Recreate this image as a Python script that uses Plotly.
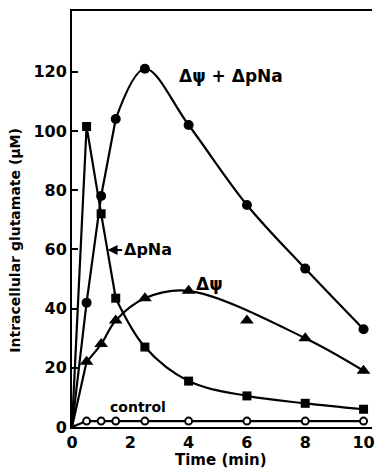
import plotly.graph_objects as go

# ---- data ----
time_min = [0, 0.5, 1, 1.5, 2.5, 4, 6, 8, 10]
both_vals = [0, 42, 78, 104, 121, 102, 75, 53.5, 33]      # Δψ + ΔpNa (filled circles)
pna_vals = [0, 101.5, 72, 43.5, 27, 15.5, 10.5, 8, 6]      # ΔpNa (filled squares)
psi_vals = [0, 22, 28, 36, 43.5, 46, 36, 30, 19]           # Δψ (filled triangles)
ctrl_vals = [0, 2, 2, 2, 2, 2, 2, 2, 2]                    # control (open circles)
psi_curve_skip_times = [6]                                  # point lying off the drawn curve
x_ticks = [0, 2, 4, 6, 8, 10]
y_ticks = [0, 20, 40, 60, 80, 100, 120]

FONT = "DejaVu Sans"
BLACK = "#000000"
LW = 2.2

fig = go.Figure()


def add_line(xs, ys, shape):
    fig.add_trace(go.Scatter(x=xs, y=ys, mode="lines",
                             line=dict(color=BLACK, width=LW, shape=shape, smoothing=1.0),
                             hoverinfo="skip", showlegend=False))


def add_markers(xs, ys, symbol, size, fill=BLACK, lw=0):
    fig.add_trace(go.Scatter(x=xs[1:], y=ys[1:], mode="markers",
                             marker=dict(symbol=symbol, size=size, color=fill,
                                         line=dict(color=BLACK, width=lw)),
                             showlegend=False))


# Δψ + ΔpNa: straight segments early, smooth curve afterwards
add_line(time_min[:4], both_vals[:4], "linear")
add_line(time_min[3:], both_vals[3:], "spline")

# ΔpNa
add_line(time_min[:4], pna_vals[:4], "linear")
add_line(time_min[3:], pna_vals[3:], "spline")

# Δψ
add_line(time_min[:2], psi_vals[:2], "linear")
psi_cx = [t for t in time_min[1:] if t not in psi_curve_skip_times]
psi_cy = [v for t, v in zip(time_min[1:], psi_vals[1:]) if t not in psi_curve_skip_times]
add_line(psi_cx, psi_cy, "spline")

# control
add_line(time_min, ctrl_vals, "linear")

add_markers(time_min, both_vals, "circle", 10)
add_markers(time_min, pna_vals, "square", 9)
add_markers(time_min, psi_vals, "triangle-up", 12)
add_markers(time_min, ctrl_vals, "circle", 7, fill="white", lw=2)

bold = dict(family=FONT, color=BLACK, weight="bold")

fig.update_layout(
    width=375, height=472,
    margin=dict(l=72, r=0, t=11, b=45),
    paper_bgcolor="white", plot_bgcolor="white",
    xaxis=dict(range=[0, 10.29], tickvals=x_ticks, ticktext=[str(v) for v in x_ticks],
               showline=True, linecolor=BLACK, linewidth=2, mirror=True,
               showgrid=False, zeroline=False, ticks="",
               ticklabeloverflow="allow",
               tickfont=dict(size=16, **bold)),
    yaxis=dict(range=[0, 140.5], tickvals=y_ticks,
               showline=True, linecolor=BLACK, linewidth=2, mirror=False,
               showgrid=False, zeroline=False, ticks="inside", ticklen=6,
               tickwidth=2, tickcolor=BLACK,
               tickfont=dict(size=16, **bold)),
    annotations=[
        dict(text="Intracellular glutamate (μM)", xref="paper", yref="paper",
             x=-0.191, y=0.4495, textangle=-90, showarrow=False,
             xanchor="center", yanchor="middle", font=dict(size=14, **bold)),
        dict(text="Time (min)", xref="paper", yref="paper", x=0.495, y=-0.079,
             showarrow=False, xanchor="center", yanchor="middle",
             font=dict(size=15, **bold)),
        dict(text="Δψ + ΔpNa", x=5.47, y=118.6, showarrow=False,
             font=dict(size=17, **bold)),
        dict(text="Δψ", x=4.72, y=48.3, showarrow=False,
             font=dict(size=17, **bold)),
        dict(text="control", x=2.28, y=6.8, showarrow=False,
             font=dict(size=14, **bold)),
        dict(text="ΔpNa", x=1.22, y=59.8, ax=40, ay=0, showarrow=True,
             arrowhead=2, arrowsize=1, arrowwidth=2, arrowcolor=BLACK,
             font=dict(size=16, **bold)),
    ],
)

fig.write_html("out.html")
